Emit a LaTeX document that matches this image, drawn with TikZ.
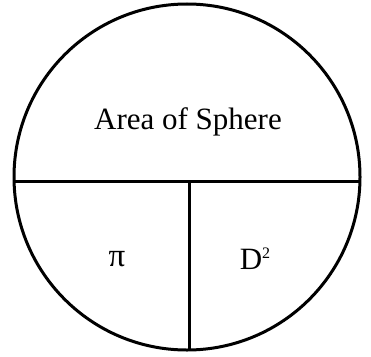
\documentclass[tikz,border=0pt]{standalone}
\usepackage{fontspec}
\setmainfont{Liberation Serif}
\begin{document}
\begin{tikzpicture}[x=1pt,y=-1pt,
  ring/.style={circle, draw, line width=3pt, minimum size=346pt, inner sep=0pt},
  divider/.style={line width=3pt},
  label/.style={font=\fontsize{31}{36}\selectfont, inner sep=0pt}]
\useasboundingbox (0,0) rectangle (371,356);
\node[ring] (c) at (187,177) {};
\coordinate (hl) at (14,181);
\coordinate (hr) at (360,181);
\coordinate (vt) at (189,181);
\coordinate (vb) at (189,350);
\draw[divider] (hl) -- (hr);
\draw[divider] (vt) -- (vb);
\node[label] (area) at (188,122) {Area of Sphere};
\node[label] (pi) at (117,259) {\fontsize{33}{36}\selectfont π};
\node[label] (d2) at (255,259) {D\raisebox{0.36em}{\fontsize{16}{16}\selectfont 2}};
\end{tikzpicture}
\end{document}
